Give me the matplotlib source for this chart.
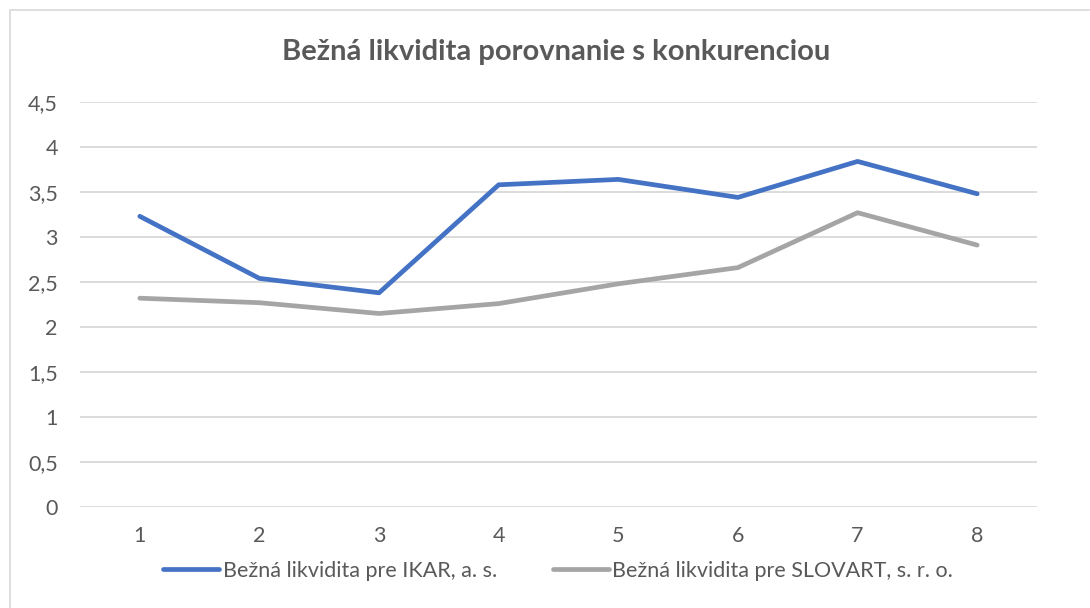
import matplotlib.pyplot as plt
from matplotlib.ticker import FuncFormatter, MultipleLocator
from matplotlib.patches import Rectangle

plt.rcParams['font.family'] = ['Lato', 'DejaVu Sans']

years = [1, 2, 3, 4, 5, 6, 7, 8]
ikar = [3.23, 2.54, 2.38, 3.58, 3.64, 3.44, 3.84, 3.48]
slovart = [2.32, 2.27, 2.15, 2.26, 2.48, 2.66, 3.27, 2.91]

title = 'Bežná likvidita porovnanie s konkurenciou'
label_ikar = 'Bežná likvidita pre IKAR, a. s.'
label_slovart = 'Bežná likvidita pre SLOVART, s. r. o.'

text_col = '#595959'
grid_col = '#D9D9D9'

fig = plt.figure(figsize=(10.9, 6.08), dpi=100)
ax = fig.add_axes([80/1090, 1-507/608, 957/1090, 405/608])

# thin frame round the chart area like in the source
fig.patches.append(Rectangle((10/1090, -0.1), 1.2, 1-10/608+0.1, transform=fig.transFigure,
                             fill=False, edgecolor='#D9D9D9', linewidth=1.2))

ax.plot(years, ikar, color='#4472C4', linewidth=3.4, solid_capstyle='round',
        solid_joinstyle='round', label=label_ikar, zorder=3)
ax.plot(years, slovart, color='#A5A5A5', linewidth=3.4, solid_capstyle='round',
        solid_joinstyle='round', label=label_slovart, zorder=3)

ax.set_xlim(0.5, 8.5)
ax.set_ylim(0, 4.5)
ax.set_xticks(years)
ax.yaxis.set_major_locator(MultipleLocator(0.5))
ax.yaxis.set_major_formatter(FuncFormatter(lambda v, p: ('%g' % v).replace('.', ',')))
ax.grid(axis='y', color=grid_col, linewidth=1.3)
ax.set_axisbelow(True)
for s in ax.spines.values():
    s.set_visible(False)
ax.tick_params(length=0, labelsize=15.5, labelcolor=text_col)
ax.tick_params(axis='y', pad=16)
ax.tick_params(axis='x', pad=14)

fig.text(0.510, 1-52/608, title, ha='center', va='center', fontsize=21,
         fontweight='bold', color=text_col)

fig.legend(loc='center', bbox_to_anchor=(0.512, 1-571/608), ncol=2, frameon=False,
           fontsize=15.5, labelcolor=text_col, handlelength=2.6, handletextpad=0.15,
           columnspacing=2.6)

plt.savefig('out.png', dpi=100)
